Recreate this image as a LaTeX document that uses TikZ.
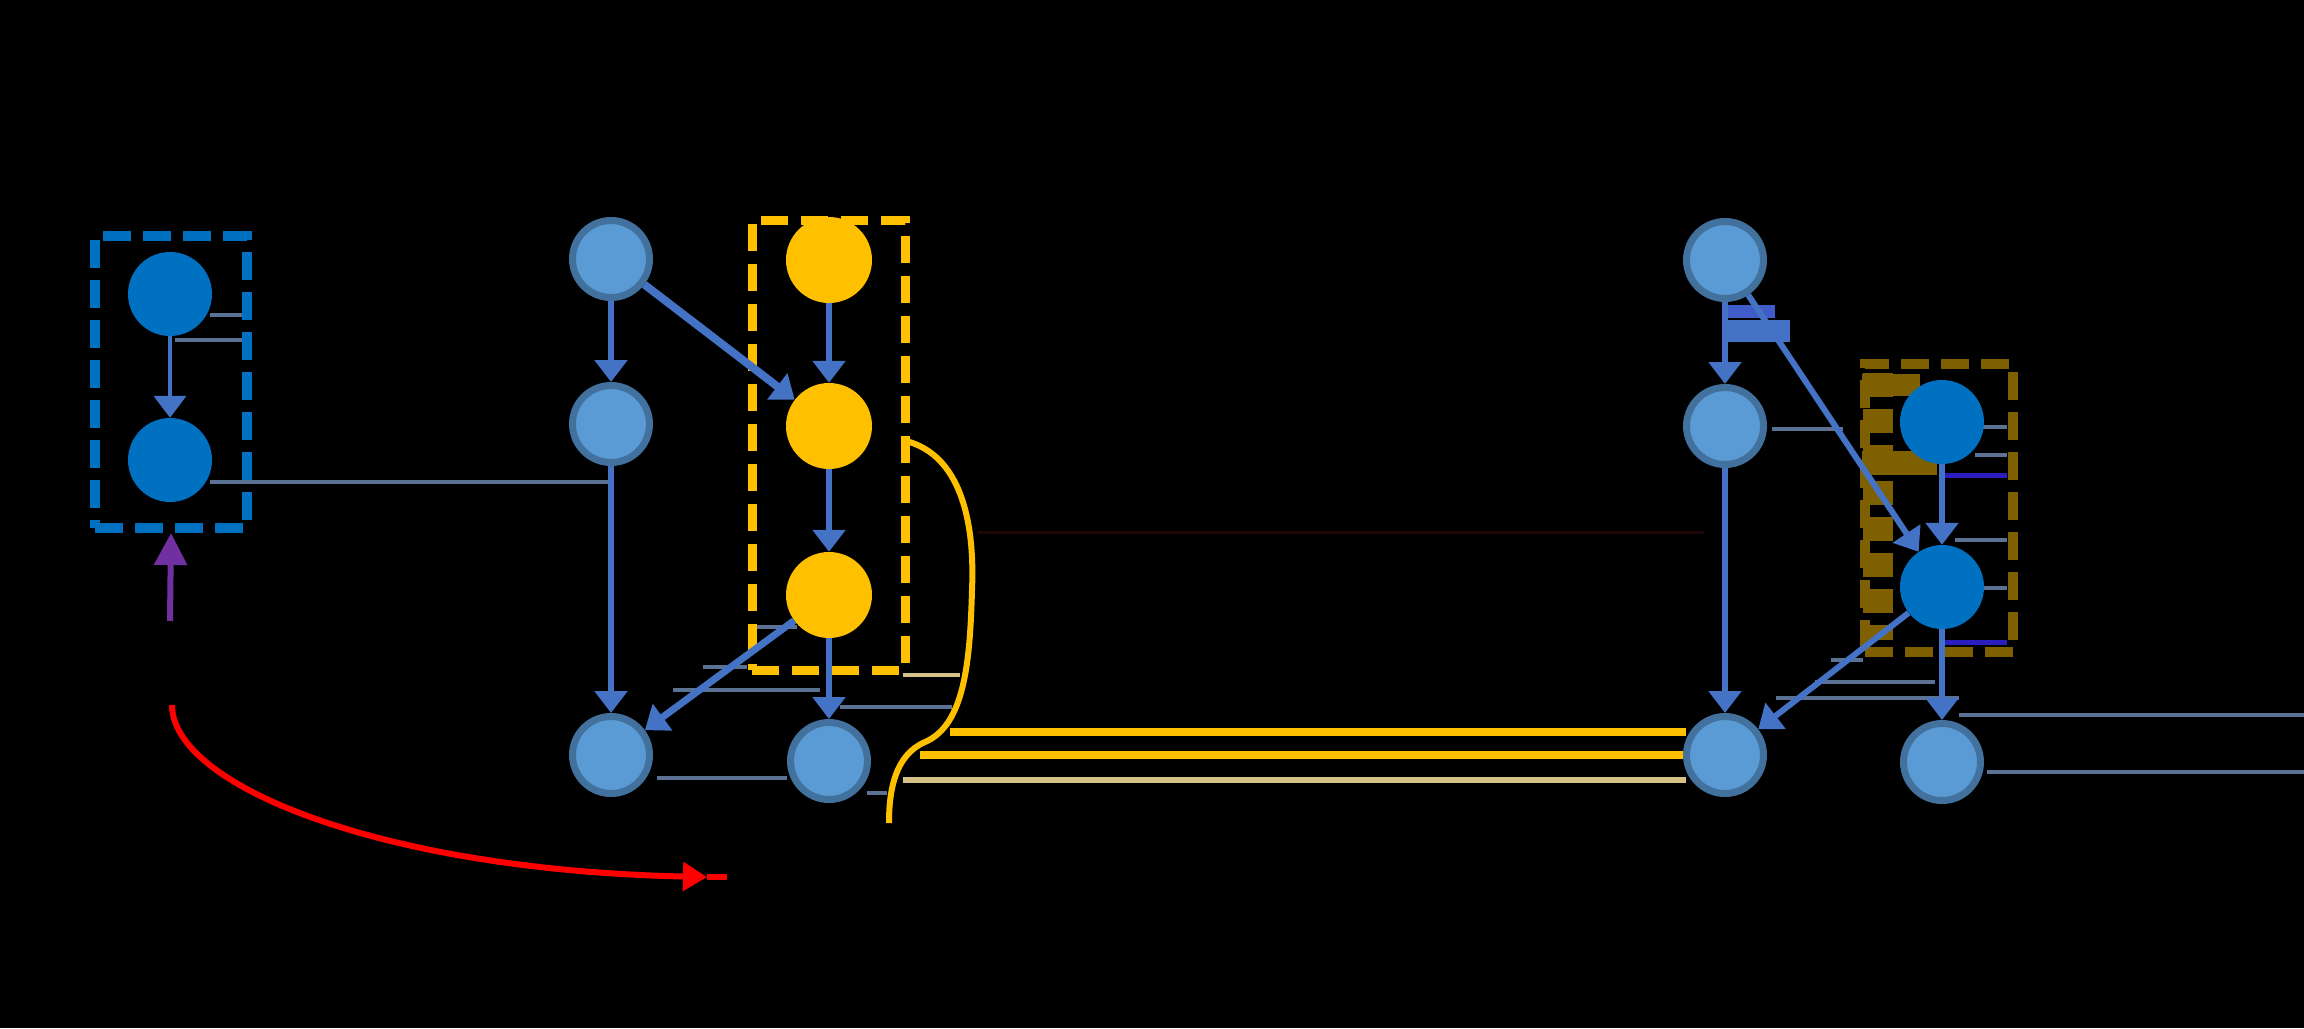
\documentclass[tikz,border=0pt]{standalone}
\usetikzlibrary{arrows.meta}
\definecolor{arrblue}{HTML}{4472C4}
\definecolor{lbfill}{HTML}{5B9BD5}
\definecolor{lbdraw}{HTML}{41719C}
\definecolor{dkblue}{HTML}{0070C0}
\definecolor{ylw}{HTML}{FFC000}
\definecolor{gold}{HTML}{7F6000}
\definecolor{purp}{HTML}{7030A0}
\definecolor{thin}{RGB}{92,114,148}
\definecolor{tan}{RGB}{214,193,135}
\definecolor{indig}{RGB}{44,30,190}
\definecolor{dkred}{RGB}{30,6,6}
\begin{document}
\begin{tikzpicture}[x=1pt,y=-1pt,
  lb/.style={circle,fill=lbfill,draw=lbdraw,line width=7pt,minimum size=77pt,inner sep=0pt},
  dk/.style={circle,fill=dkblue,minimum size=84pt,inner sep=0pt},
  yl/.style={circle,fill=ylw,minimum size=86pt,inner sep=0pt},
  dbox/.style={draw,line width=10pt,dash pattern=on 28pt off 12pt,inner sep=0pt},
  arr/.style={draw=arrblue,line width=6pt,-{Triangle[length=22pt,width=32pt]}},
  thinln/.style={draw=thin,line width=4pt},
  ]
\fill[black] (0,0) rectangle (2304,1028);
\useasboundingbox (0,0) rectangle (2304,1028);

% ---------- thin lines ----------
\draw[thinln] (210,315) -- (243,315);
\draw[thinln] (175,340) -- (243,340);
\draw[thinln] (210,482) -- (608,482);
\draw[thinln] (753,627) -- (797,627);
\draw[thinln] (703,667) -- (747,667);
\draw[draw=tan,line width=4pt] (903,675) -- (960,675);
\draw[thinln] (673,690) -- (820,690);
\draw[thinln] (840,707) -- (952,707);
\draw[thinln] (657,778) -- (787,778);
\draw[thinln] (867,793) -- (887,793);
\draw[draw=dkred,line width=3pt] (977,532) -- (1704,532);
\draw[thinln] (1772,429) -- (1843,429);
\draw[thinln] (1983,427) -- (2007,427);
\draw[thinln] (1975,455) -- (2007,455);
\draw[draw=indig,line width=5pt] (1945,475) -- (2007,475);
\draw[thinln] (1955,540) -- (2007,540);
\draw[thinln] (1983,588) -- (2007,588);
\draw[draw=indig,line width=5pt] (1945,642) -- (2007,642);
\draw[thinln] (1831,660) -- (1863,660);
\draw[thinln] (1815,682) -- (1935,682);
\draw[thinln] (1776,698) -- (1959,698);
\draw[thinln] (1959,715) -- (2304,715);
\draw[thinln] (1987,772) -- (2304,772);

% yellow horizontal lines
\draw[draw=ylw,line width=8pt] (950,732) -- (1686,732);
\draw[draw=ylw,line width=8pt] (920,755) -- (1686,755);
\draw[draw=tan,line width=6pt] (903,780) -- (1686,780);

% yellow brace curve
\draw[draw=ylw,line width=6pt] (906,441) .. controls (960,455) and (975,520) .. (972,590)
  .. controls (970,660) and (965,725) .. (925,742)
  .. controls (895,755) and (889,790) .. (889,823);

% right-top bars
\fill[fill={rgb,255:red,63;green,92;blue,200}] (1728,305) rectangle (1775,318);
\fill[fill=arrblue] (1728,320) rectangle (1790,342);

% gold inner dashes
\draw[draw=gold,line width=30pt,dash pattern=on 24pt off 12pt] (1878,373) -- (1878,640);
\draw[draw=gold,line width=22pt] (1862,385) -- (1920,385);
\draw[draw=gold,line width=24pt] (1862,463) -- (1937,463);

% ---------- dashed boxes ----------
\node[dbox,draw=dkblue,minimum width=152pt,minimum height=292pt] (abox) at (171,382) {};
\node[dbox,draw=ylw,line width=9pt,dash pattern=on 27pt off 13pt,minimum width=153pt,minimum height=450pt] (cbox) at (828.5,445) {};
\node[dbox,draw=gold,minimum width=148pt,minimum height=288pt] (ebox) at (1939,508) {};

% ---------- nodes ----------
\node[dk] (a1) at (170,294) {};
\node[dk] (a2) at (170,460) {};

\node[lb] (b1) at (611,259) {};
\node[lb] (b2) at (611,424) {};
\node[lb] (b3) at (611,755) {};
\node[yl] (c1) at (829,260) {};
\node[yl] (c2) at (829,426) {};
\node[yl] (c3) at (829,595) {};
\node[lb] (c4) at (829,761) {};

\node[lb] (d1) at (1725,260) {};
\node[lb] (d2) at (1725,426) {};
\node[lb] (d3) at (1725,755) {};
\node[dk] (e1) at (1942,422) {};
\node[dk] (e2) at (1942,587) {};
\node[lb] (e3) at (1942,762) {};

% ---------- arrows ----------
\draw[arr,line width=4pt] (a1) -- (a2);
\coordinate (pstart) at (170,621);
\draw[draw=purp,line width=6pt,-{Triangle[length=32pt,width=32pt]}] (pstart) -- (abox.south);

\draw[arr] (b1) -- (b2);
\draw[arr] (b2) -- (b3);
\draw[arr,line width=8pt] (b1) -- (c2);
\draw[arr] (c1) -- (c2);
\draw[arr] (c2) -- (c3);
\draw[arr,line width=7pt] (c3) -- (b3);
\draw[arr] (c3) -- (c4);

\draw[arr] (d1) -- (d2);
\draw[arr] (d2) -- (d3);
\draw[arr] (d1) -- (e2);
\draw[arr] (e1) -- (e2);
\draw[arr] (e2) -- (d3);
\draw[arr] (e2) -- (e3);

% red curved arrow
\coordinate (rs) at (172,705);
\coordinate (rm) at (707,877);
\coordinate (re) at (727,877);
\draw[draw=red,line width=6pt,-{Triangle[length=24pt,width=28pt]}] (rs) .. controls (172,785) and (380,870) .. (rm);
\draw[draw=red,line width=6pt] (rm) -- (re);
\end{tikzpicture}
\end{document}
